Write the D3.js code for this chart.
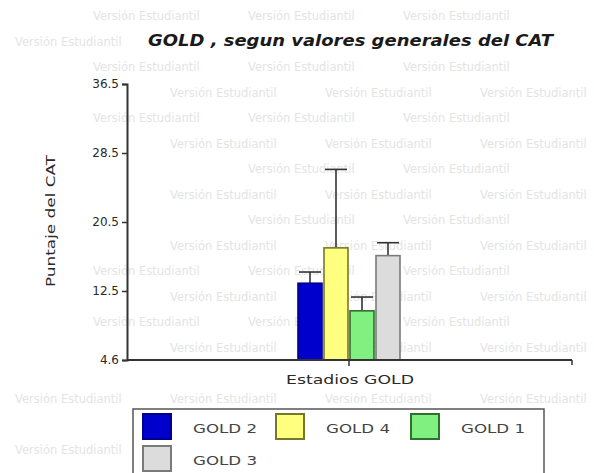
<!DOCTYPE html>
<html><head><meta charset="utf-8">
<script src="https://cdn.jsdelivr.net/npm/d3@7"></script>
<style>body{margin:0;background:#fff}svg{display:block}text{font-family:"DejaVu Sans","Liberation Sans",Arial,sans-serif}</style>
</head><body><svg id="c" width="594" height="473"></svg>
<script>
const title = "GOLD , segun valores generales del CAT";
const yLabel = "Puntaje del CAT";
const xLabel = "Estadios GOLD";
const series = ["GOLD 2", "GOLD 4", "GOLD 1", "GOLD 3"];
const means = [13.4, 17.5, 10.2, 16.6];
const errUpper = [14.7, 26.6, 11.8, 18.1];
const fills = ["#0000cc", "#ffff80", "#80f080", "#dcdcdc"];
const strokes = ["#00008a", "#77772a", "#2f6f2f", "#7a7a7a"];
const yTicks = [4.5, 12.5, 20.5, 28.5, 36.5];
const yTickLabels = ["4.6", "12.5", "20.5", "28.5", "36.5"];
const watermark = "Versión Estudiantil";

const svg = d3.select("#c");
const W = 594, H = 473;
const wm = svg.append("g").attr("fill", "#e4e4e4").attr("font-size", 11.5);

const y = d3.scaleLinear().domain([4.5, 36.5]).range([360, 84]);
const x = d3.scaleBand().domain(series).range([297, 401]).paddingInner(0).paddingOuter(0);
const txt = "#2a2a2a";

// title
svg.append("text").attr("x", 148).attr("y", 46)
  .attr("font-size", 15).attr("font-weight", "bold").attr("font-style", "italic").attr("fill", "#1a1a1a")
  .attr("textLength", 405).attr("lengthAdjust", "spacingAndGlyphs")
  .text(title);

// bars
const g = svg.append("g");
series.forEach((s, i) => {
  const cx = x(s) + x.bandwidth() / 2;
  g.append("line").attr("x1", cx).attr("x2", cx).attr("y1", y(means[i])).attr("y2", y(errUpper[i]))
    .attr("stroke", "#333").attr("stroke-width", 1.6);
  g.append("line").attr("x1", cx - 11).attr("x2", cx + 11).attr("y1", y(errUpper[i])).attr("y2", y(errUpper[i]))
    .attr("stroke", "#333").attr("stroke-width", 1.6);
  g.append("rect").attr("x", x(s) + 1).attr("width", x.bandwidth() - 2)
    .attr("y", y(means[i])).attr("height", y(4.5) - y(means[i]))
    .attr("fill", fills[i]).attr("stroke", strokes[i]).attr("stroke-width", 1.6);
});

// y axis
const ya = svg.append("g").attr("transform", "translate(127,0)")
  .call(d3.axisLeft(y).tickValues(yTicks).tickFormat((d, i) => yTickLabels[i]).tickSize(5).tickPadding(3));
ya.select(".domain").attr("stroke", "#333").attr("stroke-width", 2);
ya.selectAll(".tick line").attr("stroke", "#333").attr("stroke-width", 1.5);
ya.selectAll(".tick text").attr("font-size", 12).attr("fill", txt).attr("font-family", "DejaVu Sans");

// x axis
svg.append("line").attr("x1", 127).attr("x2", 572).attr("y1", 360).attr("y2", 360).attr("stroke", "#333").attr("stroke-width", 2);
svg.append("line").attr("x1", 349).attr("x2", 349).attr("y1", 360).attr("y2", 366).attr("stroke", "#333").attr("stroke-width", 1.5);
svg.append("line").attr("x1", 572).attr("x2", 572).attr("y1", 360).attr("y2", 365).attr("stroke", "#333").attr("stroke-width", 1.5);
svg.append("text").attr("x", 286).attr("y", 384).attr("font-size", 13).attr("fill", txt)
  .attr("textLength", 128).attr("lengthAdjust", "spacingAndGlyphs").text(xLabel);

// y label
svg.append("text").attr("transform", "translate(55,287) rotate(-90)")
  .attr("font-size", 13).attr("fill", txt)
  .attr("textLength", 132).attr("lengthAdjust", "spacingAndGlyphs").text(yLabel);

// legend
const lg = svg.append("g");
lg.append("rect").attr("x", 133).attr("y", 409).attr("width", 411).attr("height", 80)
  .attr("fill", "#fff").attr("stroke", "#555").attr("stroke-width", 1.5);
const pos = [[143, 414], [276, 414], [411, 414], [143, 446]];
series.forEach((s, i) => {
  lg.append("rect").attr("x", pos[i][0]).attr("y", pos[i][1]).attr("width", 28).attr("height", 25)
    .attr("fill", fills[i]).attr("stroke", strokes[i]).attr("stroke-width", 2);
  lg.append("text").attr("x", pos[i][0] + 50).attr("y", pos[i][1] + 19).attr("font-size", 13)
    .attr("fill", "#444").attr("textLength", 64).attr("lengthAdjust", "spacingAndGlyphs").text(s);
});

// watermark: place instances that do not collide with the chart's own texts or the legend
const boxes = [];
svg.selectAll("text").each(function () {
  const r = this.getBoundingClientRect();
  boxes.push({ x0: r.left - 2, x1: r.right + 2, y0: r.top - 2, y1: r.bottom + 2 });
});
boxes.push({ x0: 131, x1: 600, y0: 407, y1: 500 });
const hit = (b) => boxes.some(a => !(b.x1 < a.x0 || b.x0 > a.x1 || b.y1 < a.y0 || b.y0 > a.y1));
for (let r = 0; r < 18; r++) {
  const off = r % 2 === 0 ? -62 : 15;
  for (let k = 0; k < 5; k++) {
    const t = wm.append("text").attr("x", off + k * 155).attr("y", 20 + r * 25.5).text(watermark);
    const rr = t.node().getBoundingClientRect();
    const b = { x0: rr.left, x1: rr.right, y0: rr.top, y1: rr.bottom };
    if (b.x0 < 1 || b.x1 > W - 1 || b.y1 > H - 1 || hit(b)) t.remove();
  }
}
</script></body></html>
